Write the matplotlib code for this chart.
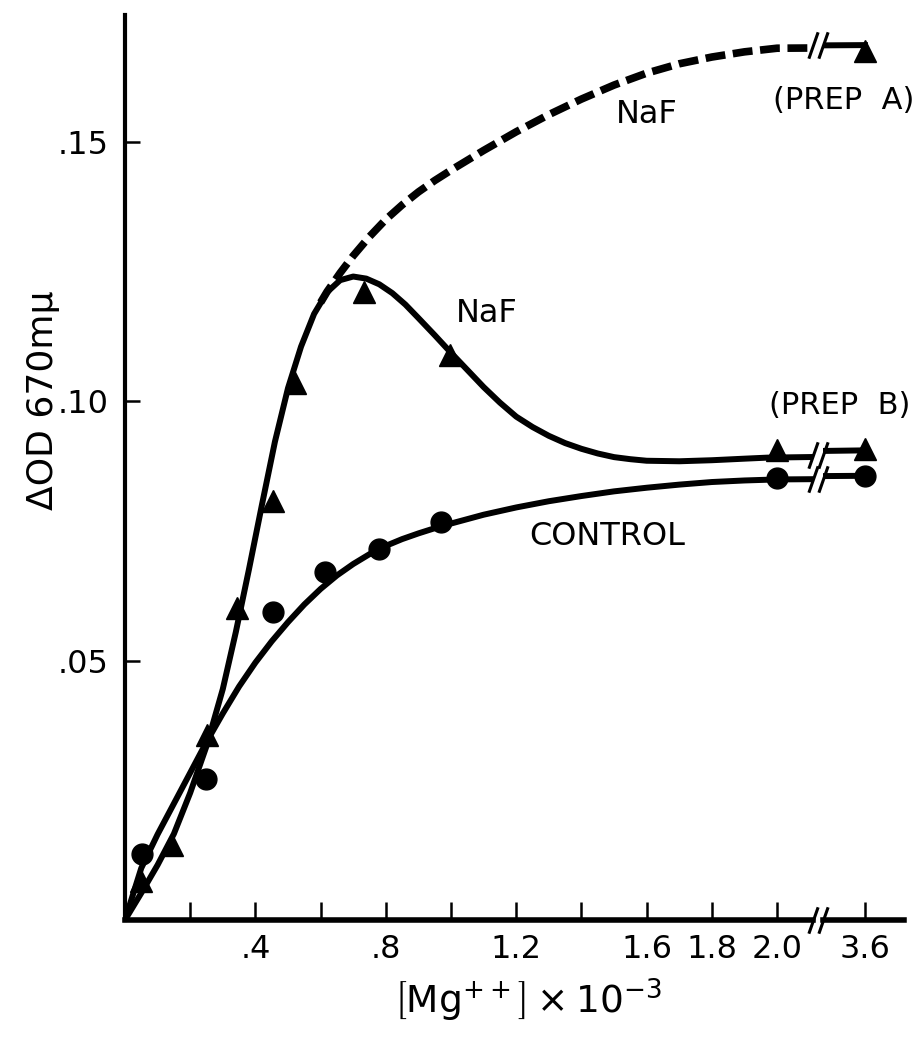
import matplotlib
matplotlib.use('Agg')
import matplotlib.pyplot as plt

plt.rcParams['font.family'] = 'DejaVu Sans'
plt.rcParams['mathtext.fontset'] = 'dejavusans'

# NaF, prep B (solid curve + filled triangles)
naf_b_x = [0, 0.05, 0.10, 0.15, 0.20, 0.25, 0.30, 0.34, 0.38, 0.42, 0.46, 0.50, 0.54, 0.58,
           0.62, 0.66, 0.70, 0.74, 0.78, 0.82, 0.86, 0.90, 0.95, 1.00, 1.05, 1.10, 1.15, 1.20,
           1.25, 1.30, 1.35, 1.40, 1.45, 1.50, 1.55, 1.60, 1.70, 1.80, 1.90, 1.97, 3.6]
naf_b_y = [0, 0.0052, 0.0106, 0.0166, 0.0245, 0.0335, 0.0445, 0.0555, 0.0675, 0.0800,
           0.0922, 0.1025, 0.1105, 0.1168, 0.1210, 0.1233, 0.1240, 0.1236, 0.1225, 0.1208,
           0.1186, 0.1160, 0.1127, 0.1093, 0.1060, 0.1027, 0.0997, 0.0970, 0.0950, 0.0933,
           0.0919, 0.0908, 0.0899, 0.0892, 0.0888, 0.0885, 0.0884, 0.0886, 0.0889, 0.0891,
           0.0905]
naf_b_pts_x = [0.05, 0.144, 0.251, 0.344, 0.455, 0.52, 0.734, 0.998, 2.0, 3.6]
naf_b_pts_y = [0.0076, 0.0145, 0.0356, 0.0601, 0.0808, 0.1035, 0.1211, 0.1088, 0.0906, 0.0908]

# NaF, prep A (dashed curve)
naf_a_x = [0.60, 0.62, 0.66, 0.70, 0.75, 0.80, 0.85, 0.90, 0.95, 1.00, 1.10, 1.20, 1.30,
           1.40, 1.50, 1.60, 1.70, 1.80, 1.90, 2.00, 3.6]
naf_a_y = [0.1190, 0.1211, 0.1247, 0.1280, 0.1317, 0.1350, 0.1378, 0.1403, 0.1425, 0.1445,
           0.1483, 0.1519, 0.1552, 0.1582, 0.1609, 0.1632, 0.1650, 0.1663, 0.1673, 0.1680,
           0.1686]
naf_a_pts_x = [3.6]
naf_a_pts_y = [0.1675]

# control (solid curve + filled dots)
ctrl_x = [0, 0.05, 0.10, 0.175, 0.25, 0.30, 0.35, 0.40, 0.45, 0.50, 0.55, 0.60, 0.65, 0.70,
          0.75, 0.80, 0.85, 0.90, 0.95, 1.00, 1.10, 1.20, 1.30, 1.40, 1.50, 1.60, 1.70, 1.80,
          1.90, 2.00, 3.6]
ctrl_y = [0, 0.0100, 0.0165, 0.0254, 0.0343, 0.0398, 0.0450, 0.0496, 0.0537, 0.0574, 0.0608,
          0.0638, 0.0664, 0.0686, 0.0705, 0.0721, 0.0734, 0.0745, 0.0755, 0.0764, 0.0781,
          0.0795, 0.0807, 0.0817, 0.0826, 0.0833, 0.0839, 0.0844, 0.0847, 0.0849, 0.0856]
ctrl_pts_x = [0.052, 0.248, 0.454, 0.613, 0.778, 0.97, 2.0, 3.6]
ctrl_pts_y = [0.0128, 0.0272, 0.0593, 0.067, 0.0715, 0.0767, 0.0851, 0.0856]

xticks = [0.2, 0.4, 0.6, 0.8, 1.0, 1.2, 1.4, 1.6, 1.8, 2.0]
xticklabels = ['', '.4', '', '.8', '', '1.2', '', '1.6', '1.8', '2.0']
yticks = [0.05, 0.10, 0.15]
yticklabels = ['.05', '.10', '.15']

FS = 23
fig = plt.figure(figsize=(9.19, 10.42), dpi=100)
ax = fig.add_axes([0.136, 0.1171, 0.7486, 0.8685])
ax2 = fig.add_axes([0.8955, 0.1171, 0.0881, 0.8685])

for a in (ax, ax2):
    a.plot(naf_b_x, naf_b_y, color='k', lw=4.3, solid_capstyle='round', solid_joinstyle='round')
    a.plot(ctrl_x, ctrl_y, color='k', lw=4.3, solid_capstyle='round', solid_joinstyle='round')
    a.plot(naf_b_pts_x, naf_b_pts_y, '^', color='k', ms=16)
    a.plot(ctrl_pts_x, ctrl_pts_y, 'o', color='k', ms=15)
    a.plot(naf_a_pts_x, naf_a_pts_y, '^', color='k', ms=16)
    a.set_ylim(0, 0.1744)
    a.spines['top'].set_visible(False)
    a.spines['right'].set_visible(False)
    a.spines['bottom'].set_linewidth(4)
    a.patch.set_alpha(0)

ax.plot(naf_a_x, naf_a_y, color='k', lw=5.5, linestyle=(0, (2.6, 1.0)), dash_capstyle='butt')
ax2.plot(naf_a_x, naf_a_y, color='k', lw=4.3)

ax.set_xlim(0, 2.11)
ax2.set_xlim(3.471, 3.72)
ax.spines['left'].set_linewidth(3)
ax2.spines['left'].set_visible(False)

ax.set_xticks(xticks)
ax.set_xticklabels(xticklabels)
ax.set_yticks(yticks)
ax.set_yticklabels(yticklabels)
ax.tick_params(axis='x', direction='in', length=13, width=1.8, pad=10, labelsize=FS)
ax.tick_params(axis='y', direction='in', length=11, width=1.8, pad=12, labelsize=FS)
ax2.set_xticks([3.6])
ax2.set_xticklabels(['3.6'])
ax2.set_yticks([])
ax2.tick_params(axis='x', direction='in', length=13, width=1.8, pad=10, labelsize=FS)

# break marks on axis and curves
slash = [(-0.35, -1), (0.35, 1)]
for yb in (0, 0.1686, 0.0897, 0.0850):
    ax.plot([2.11], [yb], marker=slash, ms=19, mew=2.2, color='k', clip_on=False)
    ax2.plot([3.471], [yb], marker=slash, ms=19, mew=2.2, color='k', clip_on=False)

ax.text(1.60, 0.1552, 'NaF', fontsize=FS, ha='center', va='center')
ax.text(1.11, 0.1169, 'NaF', fontsize=FS, ha='center', va='center')
ax.text(1.48, 0.0739, 'CONTROL', fontsize=FS, ha='center', va='center')
ax.text(2.42, 0.158, '(PREP  A)', fontsize=22, ha='right', va='center')
ax.text(2.41, 0.0992, '(PREP  B)', fontsize=22, ha='right', va='center')

fig.text(0.047, 0.616, 'ΔOD 670mμ', fontsize=26, rotation=90,
         ha='center', va='center')
fig.text(0.575, 0.040, r'$\left[\mathrm{Mg}^{++}\right]\times10^{-3}$', fontsize=27,
         ha='center', va='center')

fig.savefig('out.png', dpi=100)
